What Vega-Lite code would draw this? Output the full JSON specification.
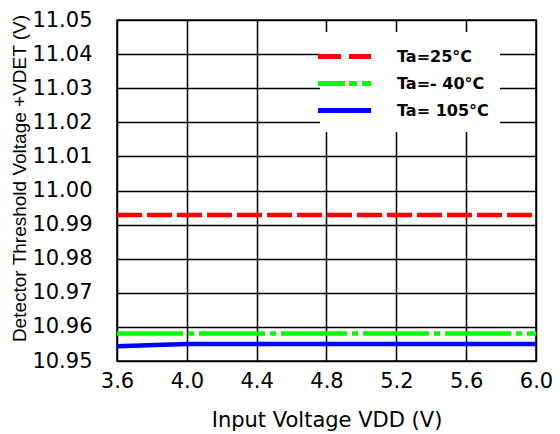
{
  "$schema": "https://vega.github.io/schema/vega-lite/v6.json",
  "autosize": "none",
  "width": 419,
  "height": 341,
  "padding": {"left": 117, "top": 20, "right": 24, "bottom": 73},
  "background": "white",
  "config": {
    "font": "DejaVu Sans",
    "view": {"stroke": "black", "strokeWidth": 1.5},
    "axis": {
      "grid": true,
      "gridColor": "black",
      "gridWidth": 1.5,
      "gridOpacity": 1,
      "domain": false,
      "ticks": false,
      "labelFlush": false,
      "labelOverlap": false,
      "labelFont": "DejaVu Sans",
      "labelFontSize": 21,
      "labelColor": "black",
      "titleFont": "DejaVu Sans",
      "titleFontSize": 21,
      "titleFontWeight": "normal",
      "titleColor": "black"
    }
  },
  "data": {
    "values": [
      {"series": "Ta=25°C", "vdd": 3.6, "vdet": 10.9928},
      {"series": "Ta=25°C", "vdd": 4.0, "vdet": 10.9928},
      {"series": "Ta=25°C", "vdd": 4.8, "vdet": 10.9928},
      {"series": "Ta=25°C", "vdd": 5.6, "vdet": 10.9928},
      {"series": "Ta=25°C", "vdd": 6.0, "vdet": 10.9928},
      {"series": "Ta=- 40°C", "vdd": 3.6, "vdet": 10.9581},
      {"series": "Ta=- 40°C", "vdd": 4.0, "vdet": 10.9581},
      {"series": "Ta=- 40°C", "vdd": 4.8, "vdet": 10.9581},
      {"series": "Ta=- 40°C", "vdd": 5.6, "vdet": 10.9581},
      {"series": "Ta=- 40°C", "vdd": 6.0, "vdet": 10.9581},
      {"series": "Ta= 105°C", "vdd": 3.6, "vdet": 10.9543},
      {"series": "Ta= 105°C", "vdd": 4.0, "vdet": 10.955},
      {"series": "Ta= 105°C", "vdd": 4.8, "vdet": 10.955},
      {"series": "Ta= 105°C", "vdd": 5.6, "vdet": 10.955},
      {"series": "Ta= 105°C", "vdd": 6.0, "vdet": 10.955}
    ]
  },
  "encoding": {
    "x": {
      "field": "vdd",
      "type": "quantitative",
      "scale": {"domain": [3.6, 6.0], "nice": false, "zero": false},
      "axis": {
        "values": [3.6, 4.0, 4.4, 4.8, 5.2, 5.6, 6.0],
        "format": ".1f",
        "labelPadding": 9,
        "title": "Input Voltage VDD (V)",
        "titlePadding": 18
      }
    },
    "y": {
      "field": "vdet",
      "type": "quantitative",
      "scale": {"domain": [10.95, 11.05], "nice": false, "zero": false},
      "axis": {
        "values": [10.95, 10.96, 10.97, 10.98, 10.99, 11.0, 11.01, 11.02, 11.03, 11.04, 11.05],
        "format": ".2f",
        "labelPadding": 25,
        "title": "Detector Threshold Voltage +VDET (V)",
        "titleFont": "Liberation Sans",
        "titleFontSize": 19,
        "titleY": 158,
        "titlePadding": 2
      }
    },
    "color": {
      "field": "series",
      "type": "nominal",
      "scale": {
        "domain": ["Ta=25°C", "Ta=- 40°C", "Ta= 105°C"],
        "range": ["#FF0000", "#00FF00", "#0000FF"]
      },
      "legend": {
        "title": null,
        "orient": "none",
        "legendX": 203,
        "legendY": 12,
        "fillColor": "white",
        "padding": 11,
        "symbolType": "M-2.5,0H2.5",
        "symbolSize": 450,
        "symbolStrokeWidth": 5,
        "labelOffset": 39,
        "labelFont": "DejaVu Sans",
        "labelFontSize": 16,
        "labelFontWeight": "bold",
        "labelColor": "black",
        "rowPadding": 3,
        "encode": {
          "symbols": {
            "update": {
              "strokeDash": {"signal": "datum.value === 'Ta=25°C' ? [23, 8] : datum.value === 'Ta=- 40°C' ? [27, 4, 8, 5] : [1, 0]"}
            }
          }
        }
      }
    },
    "order": {"field": "vdd", "type": "quantitative"}
  },
  "layer": [
    {
      "transform": [{"filter": "datum.series === 'Ta=25°C'"}],
      "mark": {"type": "line", "strokeWidth": 4.5, "clip": true, "strokeDash": [25, 5]}
    },
    {
      "transform": [{"filter": "datum.series === 'Ta=- 40°C'"}],
      "mark": {"type": "line", "strokeWidth": 4.5, "clip": true, "strokeDash": [66, 5, 6, 5]}
    },
    {
      "transform": [{"filter": "datum.series === 'Ta= 105°C'"}],
      "mark": {"type": "line", "strokeWidth": 4.5, "clip": true}
    }
  ]
}
